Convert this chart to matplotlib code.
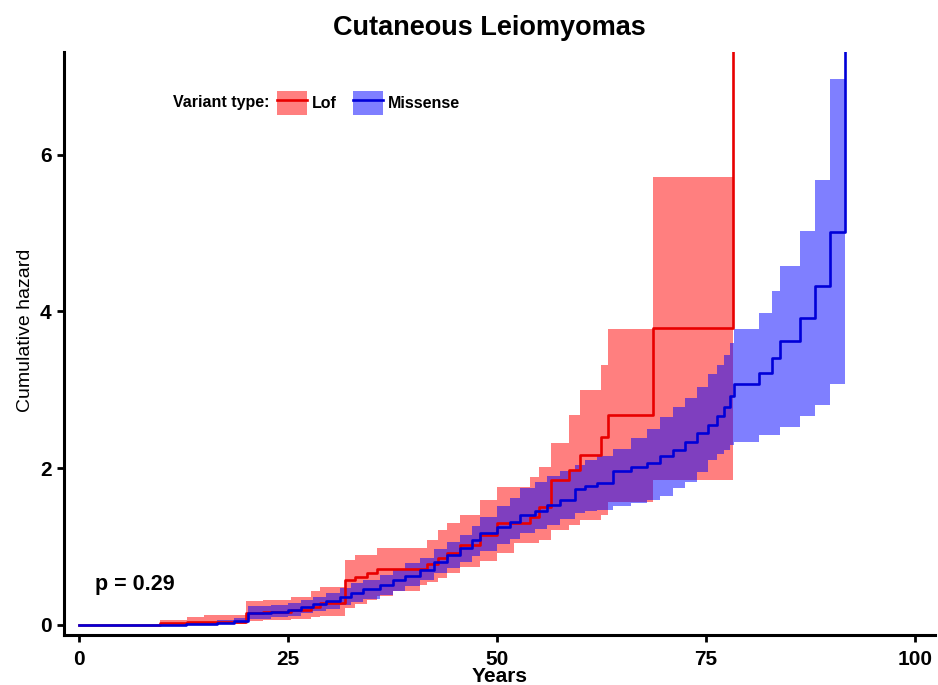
import numpy as np
import matplotlib
matplotlib.use("Agg")
import matplotlib.pyplot as plt
from matplotlib.patches import Patch
from matplotlib.lines import Line2D

plt.rcParams['font.family'] = ['Liberation Sans', 'DejaVu Sans']

title = "Cutaneous Leiomyomas"
xlabel = "Years"
ylabel = "Cumulative hazard"
legend_title = "Variant type:"
groups = ["Lof", "Missense"]
p_text = "p = 0.29"
xticks = [0, 25, 50, 75, 100]
yticks = [0, 2, 4, 6]

OFF = 10.0  # hazard becomes infinite at the last event (off the top of the scale)

# Lof (loss of function)
lof_t = [0, 9.7, 12.9, 15, 20, 22, 25.4, 27.8, 28.8, 31.8, 33, 34.4, 35.6, 37.6, 40.8,
         41.6, 43, 44, 45.6, 48, 50, 52, 54, 55, 56.5, 58.6, 59.9, 62.5, 63.3, 68.7, 78.2]
lof_est = [0, 0.03, 0.04, 0.04, 0.15, 0.16, 0.19, 0.23, 0.28, 0.57, 0.61, 0.66, 0.71, 0.72, 0.72,
           0.78, 0.85, 0.92, 1.02, 1.15, 1.30, 1.30, 1.38, 1.51, 1.85, 1.98, 2.17, 2.40, 2.68, 3.79, OFF]
lof_lo = [0, 0.00, 0.00, 0.01, 0.05, 0.06, 0.08, 0.10, 0.12, 0.22, 0.27, 0.32, 0.37, 0.43, 0.51,
          0.55, 0.60, 0.66, 0.74, 0.82, 0.92, 1.05, 1.05, 1.08, 1.21, 1.28, 1.34, 1.40, 1.57, 1.85, 1.85]
lof_hi = [0, 0.06, 0.10, 0.13, 0.30, 0.32, 0.36, 0.43, 0.49, 0.83, 0.89, 0.89, 0.98, 0.98, 0.98,
          1.09, 1.21, 1.30, 1.40, 1.60, 1.76, 1.76, 1.89, 2.02, 2.32, 2.68, 3.00, 3.32, 3.78, 5.71, 5.71]

# Missense
mis_t = [0, 12.8, 16.5, 18.5, 20.2, 23, 25, 26.6, 28, 29.5, 31.2, 32.5, 34, 36, 37.5, 39, 40.8,
         42.5, 44, 45.6, 47, 48, 50, 51.5, 52.8, 54.5, 56, 57.5, 59.3, 60.5, 62, 63.9, 66, 67.9,
         69.5, 71.1, 72.5, 73.9, 75.2, 76.3, 77.2, 77.9, 78.3, 81.3, 82.9, 83.8, 86.2, 88.0, 89.8, 91.6]
mis_est = [0, 0.01, 0.03, 0.05, 0.15, 0.17, 0.19, 0.23, 0.27, 0.31, 0.36, 0.41, 0.46, 0.51, 0.57, 0.63, 0.70,
           0.80, 0.89, 0.98, 1.08, 1.17, 1.25, 1.32, 1.40, 1.46, 1.53, 1.60, 1.73, 1.77, 1.81, 1.96, 2.01, 2.07,
           2.15, 2.23, 2.34, 2.45, 2.55, 2.66, 2.78, 2.92, 3.07, 3.21, 3.41, 3.62, 3.92, 4.32, 5.01, OFF]
mis_lo = [0, 0.00, 0.01, 0.02, 0.08, 0.10, 0.12, 0.15, 0.18, 0.21, 0.25, 0.29, 0.33, 0.38, 0.43, 0.50, 0.57,
          0.66, 0.73, 0.80, 0.88, 0.95, 1.03, 1.10, 1.17, 1.22, 1.28, 1.35, 1.43, 1.45, 1.47, 1.52, 1.56, 1.60,
          1.64, 1.75, 1.83, 1.95, 2.10, 2.18, 2.23, 2.30, 2.34, 2.43, 2.43, 2.53, 2.66, 2.81, 3.07, 3.07]
mis_hi = [0, 0.04, 0.06, 0.09, 0.24, 0.26, 0.28, 0.32, 0.36, 0.41, 0.47, 0.53, 0.58, 0.64, 0.72, 0.79, 0.86,
          0.97, 1.06, 1.15, 1.26, 1.38, 1.52, 1.62, 1.75, 1.82, 1.90, 1.97, 2.04, 2.10, 2.15, 2.25, 2.38, 2.50,
          2.65, 2.78, 2.90, 3.04, 3.20, 3.32, 3.45, 3.60, 3.77, 3.98, 4.26, 4.58, 5.02, 5.68, 6.96, 6.96]

fig = plt.figure(figsize=(9.38, 6.85), dpi=100)
ax_l, ax_b, ax_w, ax_h = 64/938, 50/685, (935-64)/938, (635-52)/685
ax = fig.add_axes([ax_l, ax_b, ax_w, ax_h])

red_line, blue_line = '#E80000', '#0000D8'

ax.fill_between(lof_t, lof_lo, lof_hi, step='post', color='red', alpha=0.5, lw=0)
ax.step(lof_t, lof_est, where='post', color=red_line, lw=1.9)
ax.fill_between(mis_t, mis_lo, mis_hi, step='post', color='blue', alpha=0.5, lw=0)
ax.step(mis_t, mis_est, where='post', color=blue_line, lw=1.9)

ax.set_xlim(-1.8, 102.4)
ax.set_ylim(-0.128, 7.31)
ax.set_xticks(xticks)
ax.set_yticks(yticks)
for s in ['top', 'right']:
    ax.spines[s].set_visible(False)
for s in ['left', 'bottom']:
    ax.spines[s].set_linewidth(2.2)
ax.tick_params(width=2.0, length=5, labelsize=15)
ax.tick_params(axis='x', pad=6)
ax.tick_params(axis='y', pad=4)
for lab in ax.get_xticklabels() + ax.get_yticklabels():
    lab.set_fontweight('bold')

ax.set_xlabel(xlabel, fontsize=15, fontweight='bold', va='center')
ax.xaxis.set_label_coords(0.5, -(677 - 635) / (635 - 52))
ax.set_ylabel(ylabel, fontsize=14)
ax.yaxis.set_label_coords(-(64 - 34) / (935 - 64), (635 - 330) / (635 - 52))

fig.text(489/938, 1 - 28/685, title, ha='center', va='center', fontsize=19.5, fontweight='bold')

ax.text(1.9, 0.51, p_text, fontsize=15.5, fontweight='bold', ha='left', va='center')

handles = [(Patch(facecolor='red', alpha=0.5, lw=0), Line2D([], [], color=red_line, lw=1.9)),
           (Patch(facecolor='blue', alpha=0.5, lw=0), Line2D([], [], color=blue_line, lw=1.9))]
fig.text(269/938, 1 - 102/685, legend_title, ha='right', va='center', fontsize=11.5, fontweight='bold')
leg = fig.legend(handles, groups, ncol=2, loc='center left', bbox_to_anchor=(277/938, 1 - 103/685),
                 frameon=False, handlelength=1.9, handleheight=1.95, handletextpad=0.3,
                 columnspacing=1.0, borderpad=0, borderaxespad=0,
                 prop={'size': 11.5, 'weight': 'bold'})

fig.savefig("out.png", dpi=100)
